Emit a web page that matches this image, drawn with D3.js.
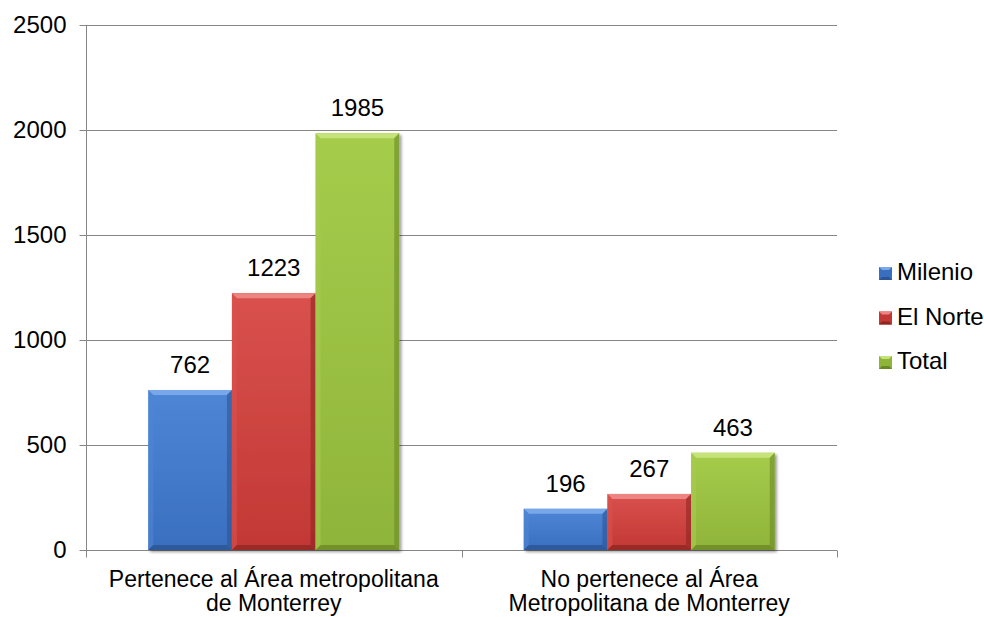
<!DOCTYPE html>
<html><head><meta charset="utf-8">
<script src="https://cdn.jsdelivr.net/npm/d3@7/dist/d3.min.js"></script>
<style>body{margin:0;background:#fff}svg{display:block}text{font-family:"Liberation Sans",Arial,sans-serif;fill:#000}</style>
</head><body><svg id="c" width="984" height="617"></svg>
<script>
const categories = [["Pertenece al Área metropolitana","de Monterrey"],["No pertenece al Área","Metropolitana de Monterrey"]];
const seriesNames = ["Milenio","El Norte","Total"];
const milenio = [762,196];
const elNorte = [1223,267];
const total = [1985,463];
const yTicks = [0,500,1000,1500,2000,2500];
const seriesValues = [milenio, elNorte, total];
const colors = [
  {base:"#3a6fbf", light:"#4f86d6", dark:"#2b5594", top:"#79a8ea"},
  {base:"#c23835", light:"#d9514d", dark:"#8f2523", top:"#ec8481"},
  {base:"#8fb43a", light:"#a6cc4c", dark:"#6a8826", top:"#c6e37a"}
];

const svg = d3.select("#c");
const FS = "24px";
const x0 = d3.scaleBand().domain([0,1]).range([86,837]).paddingInner(0).paddingOuter(0);
const y = d3.scaleLinear().domain([0,2500]).range([550,25]);
const groupW = 251;
const x1 = d3.scaleBand().domain([0,1,2]).range([0,groupW]).padding(0);

const defs = svg.append("defs");
colors.forEach((c,i)=>{
  const g = defs.append("linearGradient").attr("id","g"+i).attr("x1",0).attr("x2",0).attr("y1",0).attr("y2",1);
  g.append("stop").attr("offset","0%").attr("stop-color",c.light);
  g.append("stop").attr("offset","100%").attr("stop-color",c.base);
});
const f = defs.append("filter").attr("id","sh").attr("x","-10%").attr("y","-10%").attr("width","130%").attr("height","130%");
f.append("feGaussianBlur").attr("in","SourceAlpha").attr("stdDeviation",1.5);
f.append("feOffset").attr("dx",2).attr("dy",2).attr("result","ob");
f.append("feComponentTransfer").append("feFuncA").attr("type","linear").attr("slope",0.4);
const fm = f.append("feMerge"); fm.append("feMergeNode"); fm.append("feMergeNode").attr("in","SourceGraphic");

// gridlines
svg.append("g").selectAll("line").data(yTicks.filter(d=>d>0)).join("line")
  .attr("x1",86).attr("x2",837).attr("y1",d=>y(d)+0.5).attr("y2",d=>y(d)+0.5)
  .attr("stroke","#868686").attr("stroke-width",1);

// y axis
const ya = svg.append("g").attr("transform","translate(86.5,0)")
  .call(d3.axisLeft(y).tickValues(yTicks).tickSize(7).tickPadding(13).tickFormat(d3.format("d")));
ya.select(".domain").attr("stroke","#868686").attr("d","M0,25V550");
ya.selectAll(".tick line").attr("stroke","#868686");
ya.selectAll(".tick text").attr("font-size",FS).attr("font-family","Liberation Sans, Arial, sans-serif").attr("fill","#000");

// x axis
const xa = svg.append("g").attr("transform","translate(0,550.5)");
xa.append("line").attr("x1",80).attr("x2",837).attr("stroke","#868686");
xa.selectAll("line.t").data([86,461.5,837]).join("line").attr("class","t")
  .attr("x1",d=>Math.round(d)+0.5).attr("x2",d=>Math.round(d)+0.5).attr("y1",0).attr("y2",7).attr("stroke","#868686");
categories.forEach((lines,i)=>{
  const cx = x0(i)+x0.bandwidth()/2;
  const t = svg.append("text").attr("text-anchor","middle").attr("font-size","23px");
  lines.forEach((l,j)=>t.append("tspan").attr("x",cx).attr("y",587+j*24).text(l));
});

// bars
function bevelBar(g, x, yT, w, h, ci){
  const c = colors[ci];
  const b = Math.min(5, h/3);
  const gb = g.append("g").attr("filter","url(#sh)");
  gb.append("rect").attr("x",x).attr("y",yT).attr("width",w).attr("height",h).attr("fill","url(#g"+ci+")");
  gb.append("polygon").attr("points",[[x,yT],[x+w,yT],[x+w-b,yT+b],[x+b,yT+b]].join(" ")).attr("fill",c.top);
  gb.append("polygon").attr("points",[[x,yT],[x+b,yT+b],[x+b,yT+h-b],[x,yT+h]].join(" ")).attr("fill",c.light).attr("opacity",0.6);
  gb.append("polygon").attr("points",[[x+w,yT],[x+w,yT+h],[x+w-b,yT+h-b],[x+w-b,yT+b]].join(" ")).attr("fill",c.dark).attr("opacity",0.6);
  gb.append("polygon").attr("points",[[x,yT+h],[x+w,yT+h],[x+w-b,yT+h-b],[x+b,yT+h-b]].join(" ")).attr("fill",c.dark).attr("opacity",0.8);
}
const barsG = svg.append("g");
categories.forEach((_,i)=>{
  const gx = x0(i) + (x0.bandwidth()-groupW)/2;
  seriesValues.forEach((vals,s)=>{
    const v = vals[i];
    const bx = gx + x1(s);
    bevelBar(barsG, bx, y(v), x1.bandwidth(), y(0)-y(v), s);
    svg.append("text").attr("x",bx+x1.bandwidth()/2).attr("y",y(v)-17).attr("text-anchor","middle")
      .attr("font-size",FS).text(v);
  });
});

// legend
const lg = svg.append("g");
seriesNames.forEach((n,i)=>{
  const base = 280 + i*44.5;
  const c = colors[i];
  const sx = 879, sy = base-13, s = 13, b = 3;
  lg.append("rect").attr("x",sx).attr("y",sy).attr("width",s).attr("height",s).attr("fill",c.base);
  lg.append("polygon").attr("points",[[sx,sy],[sx+s,sy],[sx+s-b,sy+b],[sx+b,sy+b]].join(" ")).attr("fill",c.top);
  lg.append("polygon").attr("points",[[sx,sy+s],[sx+s,sy+s],[sx+s-b,sy+s-b],[sx+b,sy+s-b]].join(" ")).attr("fill",c.dark);
  lg.append("text").attr("x",897).attr("y",base).attr("font-size",FS).text(n);
});
</script></body></html>
